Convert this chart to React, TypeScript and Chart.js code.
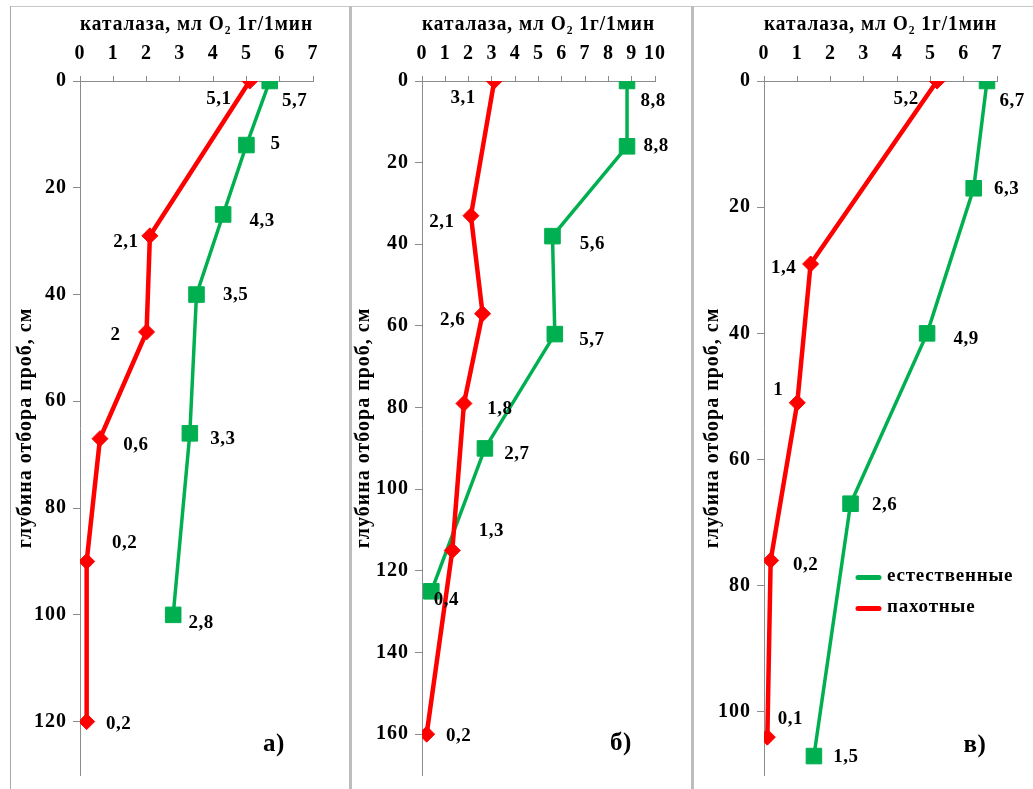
import React, { useEffect, useRef } from "react";
import { Chart, registerables } from "chart.js";

Chart.register(...registerables);

// ---- text ----
const X_TITLE = "каталаза, мл O₂ 1г/1мин";
const Y_TITLE = "глубина отбора проб, см";
const NAME_NATURAL = "естественные";
const NAME_PLOWED = "пахотные";
const PANEL_LETTERS = ["а)", "б)", "в)"];

// ---- panel а ----
const depthPlowedA = [0, 29, 47, 67, 90, 120];
const catalasePlowedA = [5.1, 2.1, 2, 0.6, 0.2, 0.2];
const depthNaturalA = [0, 12, 25, 40, 66, 100];
const catalaseNaturalA = [5.7, 5, 4.3, 3.5, 3.3, 2.8];

// ---- panel б ----
const depthPlowedB = [0, 33, 57, 79, 115, 160];
const catalasePlowedB = [3.1, 2.1, 2.6, 1.8, 1.3, 0.2];
const depthNaturalB = [0, 16, 38, 62, 90, 125];
const catalaseNaturalB = [8.8, 8.8, 5.6, 5.7, 2.7, 0.4];

// ---- panel в ----
const depthPlowedC = [0, 29, 51, 76, 104];
const catalasePlowedC = [5.2, 1.4, 1, 0.2, 0.1];
const depthNaturalC = [0, 17, 40, 67, 107];
const catalaseNaturalC = [6.7, 6.3, 4.9, 2.6, 1.5];

// ---- axis ranges ----
const X_MAX = [7, 10, 7];
const Y_MAX = [130, 170, 110];
const X_STEP = 1;
const Y_STEP = 20;

// ---- styles (label offsets, layout) ----
const RED = "#FF0000";
const GREEN = "#00B050";
const AXIS = "#8C8C8C";
const FONT = '"Liberation Serif", "Times New Roman", serif';

const OFFSETS_PLOWED = [
  [[-31, 18], [-24, 6], [-31, 3], [36, 6], [38, -18], [32, 2]],
  [[-31, 17], [-29, 6], [-30, 6], [36, 6], [39, -19], [32, 2]],
  [[-31, 18], [-27, 4], [-19, -13], [35, 5], [23, -18]],
];
const OFFSETS_NATURAL = [
  [[25, 20], [29, -1], [39, 7], [39, 1], [33, 6], [28, 8]],
  [[26, 20], [29, 0], [40, 8], [37, 6], [32, 6], [15, 9]],
  [[25, 20], [33, 1], [39, 6], [34, 1], [32, 1]],
];
const Y_TITLE_PAD = [5, 1, 8];
const PANEL_LEFT = [11, 353, 695];
const LETTER_POS = [[263, 738], [268, 737], [280, 739]];

const CW = 338;
const CH = 782;

function fmt(v: number) {
  return String(v).replace(".", ",");
}

function makePlugin(idx: number) {
  return {
    id: "valueLabels" + idx,
    beforeDraw(chart: any) {
      (chart.ctx as any).letterSpacing = "1px";
    },
    afterDatasetsDraw(chart: any) {
      const ctx = chart.ctx as CanvasRenderingContext2D;
      ctx.save();
      ctx.fillStyle = "#000";
      ctx.textAlign = "center";
      ctx.textBaseline = "middle";
      (ctx as any).letterSpacing = "0.5px";
      ctx.font = `bold 19px ${FONT}`;
      chart.data.datasets.forEach((ds: any, di: number) => {
        const meta = chart.getDatasetMeta(di);
        const offs = di === 0 ? OFFSETS_PLOWED[idx] : OFFSETS_NATURAL[idx];
        meta.data.forEach((pt: any, i: number) => {
          const v = ds.data[i].x;
          const o = offs[i] || [0, 0];
          ctx.fillText(fmt(v), pt.x + o[0], pt.y + o[1]);
        });
      });
      ctx.font = `bold 25px ${FONT}`;
      ctx.fillText(PANEL_LETTERS[idx], LETTER_POS[idx][0], LETTER_POS[idx][1]);
      if (idx === 2) {
        const items = [
          { name: NAME_NATURAL, color: GREEN, y: 570.5 },
          { name: NAME_PLOWED, color: RED, y: 601.5 },
        ];
        ctx.font = `bold 19px ${FONT}`;
        (ctx as any).letterSpacing = "0.8px";
        ctx.textAlign = "left";
        items.forEach((it) => {
          ctx.strokeStyle = it.color;
          ctx.lineWidth = 5;
          ctx.lineCap = "round";
          ctx.beginPath();
          ctx.moveTo(163, it.y);
          ctx.lineTo(184, it.y);
          ctx.stroke();
          ctx.fillText(it.name, 192, it.y - 1.5);
        });
      }
      ctx.restore();
    },
  };
}

function Panel({ idx }: { idx: number }) {
  const ref = useRef<HTMLCanvasElement>(null);
  useEffect(() => {
    const sets = [
      [depthPlowedA, catalasePlowedA, depthNaturalA, catalaseNaturalA],
      [depthPlowedB, catalasePlowedB, depthNaturalB, catalaseNaturalB],
      [depthPlowedC, catalasePlowedC, depthNaturalC, catalaseNaturalC],
    ][idx];
    const [dP, cP, dN, cN] = sets;
    const tickFont = { family: FONT, size: 20, weight: "bold" as const };
    const chart = new Chart(ref.current as HTMLCanvasElement, {
      type: "scatter",
      data: {
        datasets: [
          {
            label: NAME_PLOWED,
            data: dP.map((d, i) => ({ x: cP[i], y: d })),
            showLine: true,
            borderColor: RED,
            backgroundColor: RED,
            borderWidth: 4.5,
            pointStyle: "rectRot",
            pointRadius: 8,
            pointBorderWidth: 1,
            pointBackgroundColor: RED,
            pointBorderColor: RED,
          },
          {
            label: NAME_NATURAL,
            data: dN.map((d, i) => ({ x: cN[i], y: d })),
            showLine: true,
            borderColor: GREEN,
            backgroundColor: GREEN,
            borderWidth: 3.5,
            pointStyle: "rect",
            pointRadius: 11,
            pointBorderWidth: 1,
            pointBackgroundColor: GREEN,
            pointBorderColor: GREEN,
          },
        ],
      },
      options: {
        animation: false,
        responsive: false,
        devicePixelRatio: 1,
        layout: { padding: { left: 0, top: 0, right: 36, bottom: 14 } },
        plugins: { legend: { display: false }, tooltip: { enabled: false } },
        scales: {
          x: {
            type: "linear",
            position: "top",
            min: 0,
            max: X_MAX[idx],
            ticks: {
              stepSize: X_STEP,
              autoSkip: false,
              maxRotation: 0,
              padding: 10,
              color: "#000",
              font: tickFont,
            },
            grid: { drawOnChartArea: false, drawTicks: true, tickLength: 5, color: AXIS },
            border: { color: AXIS, width: 1 },
            title: {
              display: true,
              text: X_TITLE,
              color: "#000",
              font: { family: FONT, size: 20, weight: "bold", lineHeight: 1 },
              padding: { top: 8, bottom: 0 },
            },
            afterFit: (s: any) => {
              s.height = 74;
              s.paddingLeft = 0;
              s.paddingRight = 0;
            },
          },
          y: {
            type: "linear",
            reverse: true,
            min: 0,
            max: Y_MAX[idx],
            ticks: {
              stepSize: Y_STEP,
              includeBounds: false,
              padding: 6,
              color: "#000",
              font: tickFont,
            },
            grid: { drawOnChartArea: false, drawTicks: true, tickLength: 7, color: AXIS },
            border: { color: AXIS, width: 1 },
            title: {
              display: true,
              text: Y_TITLE,
              color: "#000",
              font: { family: FONT, size: 20, weight: "bold", lineHeight: 1 },
              padding: { top: Y_TITLE_PAD[idx], bottom: 0 },
            },
            afterFit: (s: any) => {
              s.width = 69;
              s.paddingTop = 0;
              s.paddingBottom = 0;
            },
          },
        },
      } as any,
      plugins: [makePlugin(idx)],
    });
    return () => chart.destroy();
  }, [idx]);
  return (
    <canvas
      ref={ref}
      width={CW}
      height={CH}
      style={{ position: "absolute", left: PANEL_LEFT[idx], top: 7, width: CW, height: CH }}
    />
  );
}

export default function App() {
  return (
    <div
      style={{
        position: "absolute",
        left: 0,
        top: 0,
        width: 1033,
        height: 789,
        overflow: "hidden",
        background: "#fff",
      }}
    >
      <div style={{ position: "absolute", left: 10, top: 6, width: 1023, height: 1, background: "#c8c8c8" }} />
      <div style={{ position: "absolute", left: 10, top: 6, width: 1, height: 783, background: "#a8a8a8" }} />
      <div style={{ position: "absolute", left: 349, top: 6, width: 3, height: 783, background: "#bdbdbd" }} />
      <div style={{ position: "absolute", left: 691, top: 6, width: 3, height: 783, background: "#bdbdbd" }} />
      <Panel idx={0} />
      <Panel idx={1} />
      <Panel idx={2} />
    </div>
  );
}
